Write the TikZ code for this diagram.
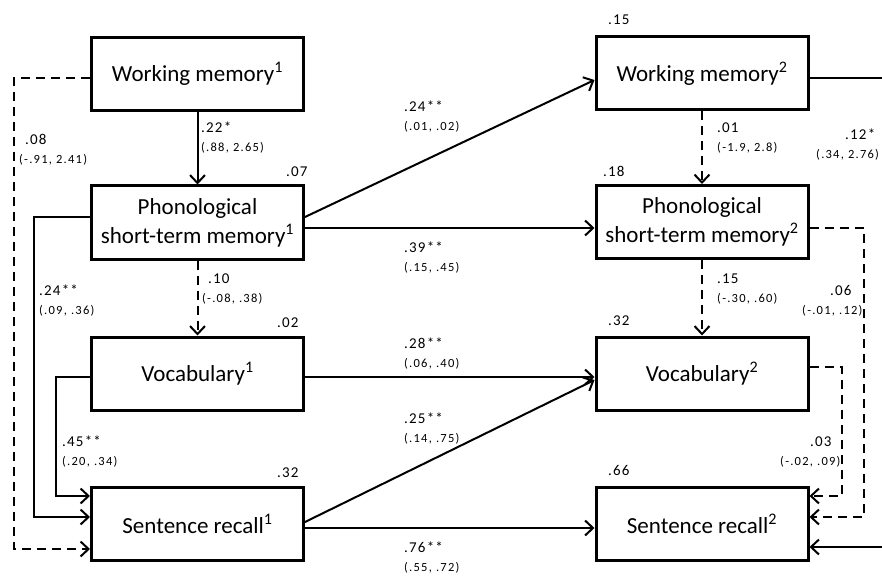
\documentclass[tikz,border=0pt]{standalone}
\usepackage{fontspec}
\setmainfont{Carlito}
\newfontfamily\cifont[LetterSpace=10]{Carlito}
\newfontfamily\coeffont[LetterSpace=8]{Carlito}
\usetikzlibrary{arrows.meta}

\tikzset{
  var/.style={draw, line width=3pt, minimum width=212pt, minimum height=73pt,
    inner sep=0pt, align=center, font=\fontsize{23}{29}\selectfont},
  reg/.style={line width=2pt, -{Straight Barb[length=8pt,width=15pt]}},
  ns/.style={reg, dash pattern=on 9pt off 6pt},
  coef/.style={inner sep=0pt, anchor=base west, font=\coeffont\fontsize{15}{17}\selectfont},
  ci/.style={inner sep=0pt, anchor=base west, font=\cifont\fontsize{12.5}{14}\selectfont},
  rsq/.style={inner sep=0pt, anchor=base west, font=\coeffont\fontsize{15}{17}\selectfont}
}

\begin{document}
\begin{tikzpicture}[x=1pt,y=-1pt]
\useasboundingbox (0,0) rectangle (882,577);

% time 1
\node[var] (wm1) at (197.5,74) {Working memory\textsuperscript{1}};
\node[var] (pstm1) at (197.5,222.5) {Phonological\\short-term memory\textsuperscript{1}};
\node[var] (voc1) at (197.5,373.5) {Vocabulary\textsuperscript{1}};
\node[var] (sr1) at (197.5,524) {Sentence recall\textsuperscript{1}};

% time 2
\node[var] (wm2) at (702,73.5) {Working memory\textsuperscript{2}};
\node[var] (pstm2) at (702,222) {Phonological\\short-term memory\textsuperscript{2}};
\node[var] (voc2) at (702,373.5) {Vocabulary\textsuperscript{2}};
\node[var] (sr2) at (702,524) {Sentence recall\textsuperscript{2}};

% explained variance
\node[rsq] (r-pstm1) at (286,177) {.07};
\node[rsq] (r-voc1) at (277,327) {.02};
\node[rsq] (r-sr1) at (277,477) {.32};
\node[rsq] (r-wm2) at (608,25) {.15};
\node[rsq] (r-pstm2) at (603,177) {.18};
\node[rsq] (r-voc2) at (608,325) {.32};
\node[rsq] (r-sr2) at (608,475) {.66};

% paths within time 1
\draw[reg] (wm1) -- (pstm1);
\draw[ns] (pstm1) -- (voc1);
\draw[ns] ([yshift=-4pt]wm1.west) -- ++(-76,0) |- ([yshift=-25pt]sr1.west);
\draw[reg] ([yshift=5.5pt]pstm1.west) -- ++(-56,0) |- ([yshift=7pt]sr1.west);
\draw[reg] ([yshift=-3.5pt]voc1.west) -- ++(-34,0) |- ([yshift=28pt]sr1.west);

% paths from time 1 to time 2
\draw[reg] ([yshift=5.5pt]pstm1.east) -- ([yshift=-6.5pt]wm2.west);
\draw[reg] ([yshift=-5.5pt]pstm1.east) -- ([yshift=-6pt]pstm2.west);
\draw[reg] ([yshift=-3.5pt]voc1.east) -- ([yshift=-3.5pt]voc2.west);
\draw[reg] ([yshift=2pt]sr1.east) -- ([yshift=-6.5pt]voc2.west);
\draw[reg] ([yshift=-4pt]sr1.east) -- ([yshift=-4pt]sr2.west);

% paths within time 2
\draw[ns] (wm2) -- (pstm2);
\draw[ns] (pstm2) -- (voc2);
\draw[reg] ([yshift=-4.5pt]wm2.east) -- ++(110,0) |- ([yshift=-23pt]sr2.east);
\draw[ns] ([yshift=-6pt]pstm2.east) -- ++(54,0) |- ([yshift=7pt]sr2.east);
\draw[ns] ([yshift=6.5pt]voc2.east) -- ++(32,0) |- ([yshift=28pt]sr2.east);

% coefficients
\node[coef] (b-wm-pstm1) at (201,133) {.22*};
\node[ci] (ci-wm-pstm1) at (201,152) {(.88, 2.65)};
\node[coef] (b-wm-sr1) at (25,145) {.08};
\node[ci] (ci-wm-sr1) at (19,164) {(-.91, 2.41)};
\node[coef] (b-pstm-sr1) at (39,295) {.24**};
\node[ci] (ci-pstm-sr1) at (39,314) {(.09, .36)};
\node[coef] (b-pstm-voc1) at (208,283) {.10};
\node[ci] (ci-pstm-voc1) at (202,302) {(-.08, .38)};
\node[coef] (b-voc-sr1) at (62,446) {.45**};
\node[ci] (ci-voc-sr1) at (62,465) {(.20, .34)};

\node[coef] (b-pstm-wm) at (404,112) {.24**};
\node[ci] (ci-pstm-wm) at (404,131) {(.01, .02)};
\node[coef] (b-pstm-pstm) at (404,252) {.39**};
\node[ci] (ci-pstm-pstm) at (404,271) {(.15, .45)};
\node[coef] (b-voc-voc) at (404,348) {.28**};
\node[ci] (ci-voc-voc) at (404,367) {(.06, .40)};
\node[coef] (b-sr-voc) at (404,423) {.25**};
\node[ci] (ci-sr-voc) at (404,442) {(.14, .75)};
\node[coef] (b-sr-sr) at (404,552) {.76**};
\node[ci] (ci-sr-sr) at (404,571) {(.55, .72)};

\node[coef] (b-wm-pstm2) at (717,133) {.01};
\node[ci] (ci-wm-pstm2) at (717,152) {(-1.9, 2.8)};
\node[coef] (b-pstm-voc2) at (717,283) {.15};
\node[ci] (ci-pstm-voc2) at (717,302) {(-.30, .60)};
\node[coef] (b-wm-sr2) at (845,140) {.12*};
\node[ci] (ci-wm-sr2) at (816,159) {(.34, 2.76)};
\node[coef] (b-pstm-sr2) at (830,295) {.06};
\node[ci] (ci-pstm-sr2) at (802,314) {(-.01, .12)};
\node[coef] (b-voc-sr2) at (810,446) {.03};
\node[ci] (ci-voc-sr2) at (780,465) {(-.02, .09)};
\end{tikzpicture}
\end{document}
